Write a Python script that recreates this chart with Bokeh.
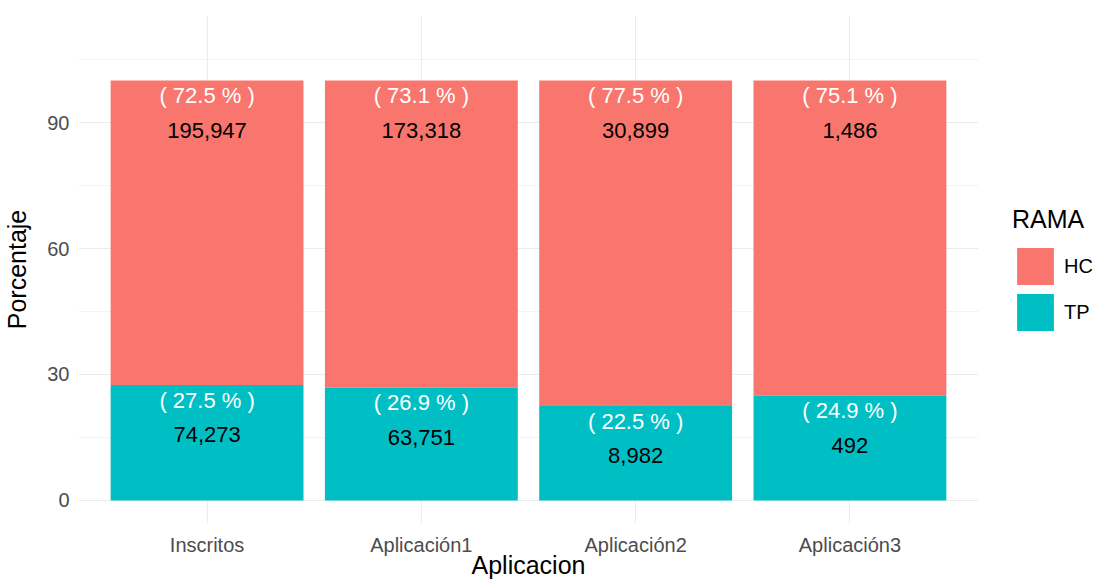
from bokeh.plotting import figure
from bokeh.models import FactorRange, Range1d, FixedTicker, Legend, LegendItem, ColumnDataSource
from bokeh.embed import file_html
from bokeh.resources import INLINE
from bokeh.core.properties import value

categories = ["Inscritos", "Aplicación1", "Aplicación2", "Aplicación3"]
hc_counts = [195947, 173318, 30899, 1486]
tp_counts = [74273, 63751, 8982, 492]
hc_pct = [72.5, 73.1, 77.5, 75.1]
tp_pct = [27.5, 26.9, 22.5, 24.9]
y_ticks = [0, 30, 60, 90]
y_minor = [15, 45, 75, 105]
series_names = ["HC", "TP"]
series_colors = ["#F8766D", "#00BFC4"]

FONT = "Liberation Sans"
PCT_OFF = 3.6    # label offsets below the segment top, in axis units
CNT_OFF = 11.9

p = figure(frame_width=900, frame_height=508, output_backend="svg", toolbar_location=None,
           x_range=FactorRange(factors=categories, range_padding=0.1, range_padding_units="absolute"),
           y_range=Range1d(-5.5, 115.5),
           min_border_left=0, min_border_right=116, min_border_top=15, min_border_bottom=0)
p.outline_line_color = None
p.background_fill_color = "white"
p.border_fill_color = "white"

tp_top = tp_pct
hc_bottom = tp_pct
hc_top = [t + h for t, h in zip(tp_pct, hc_pct)]

src = ColumnDataSource(dict(
    x=categories, tp_top=tp_top, hc_bottom=hc_bottom, hc_top=hc_top,
    hc_lab=[f"( {v:.1f} % )" for v in hc_pct],
    tp_lab=[f"( {v:.1f} % )" for v in tp_pct],
    hc_cnt=[f"{v:,}" for v in hc_counts],
    tp_cnt=[f"{v:,}" for v in tp_counts],
    hc_pct_y=[t - PCT_OFF for t in hc_top],
    hc_cnt_y=[t - CNT_OFF for t in hc_top],
    tp_pct_y=[t - PCT_OFF for t in tp_top],
    tp_cnt_y=[t - CNT_OFF for t in tp_top],
))

r_hc = p.vbar(x="x", bottom="hc_bottom", top="hc_top", width=0.9, source=src,
              fill_color=series_colors[0], line_color=None)
r_tp = p.vbar(x="x", bottom=0, top="tp_top", width=0.9, source=src,
              fill_color=series_colors[1], line_color=None)

common = dict(text_font=value(FONT), text_align="center", text_baseline="middle", source=src)
p.text(x="x", y="hc_pct_y", text="hc_lab", text_color="white", text_font_size="22px", **common)
p.text(x="x", y="hc_cnt_y", text="hc_cnt", text_color="black", text_font_size="22px", **common)
p.text(x="x", y="tp_pct_y", text="tp_lab", text_color="white", text_font_size="22px", **common)
p.text(x="x", y="tp_cnt_y", text="tp_cnt", text_color="black", text_font_size="22px", **common)

# axes
p.yaxis.ticker = FixedTicker(ticks=y_ticks, minor_ticks=y_minor)
for ax in (p.xaxis[0], p.yaxis[0]):
    ax.axis_line_color = None
    ax.major_tick_line_color = None
    ax.minor_tick_line_color = None
    ax.major_tick_out = 0
    ax.major_tick_in = 0
    ax.minor_tick_out = 0
    ax.minor_tick_in = 0
    ax.major_label_text_font = FONT
    ax.major_label_text_font_size = "20px"
    ax.major_label_text_color = "#4D4D4D"
    ax.axis_label_text_font = FONT
    ax.axis_label_text_font_size = "25px"
    ax.axis_label_text_font_style = "normal"
    ax.axis_label_text_color = "black"
p.xaxis.axis_label = "Aplicacion"
p.yaxis.axis_label = "Porcentaje"
p.xaxis.major_label_standoff = 10
p.xaxis.axis_label_standoff = -8
p.yaxis.major_label_standoff = 9
p.yaxis.axis_label_standoff = 13

p.xgrid.grid_line_color = "#EBEBEB"
p.xgrid.grid_line_width = 1.1
p.ygrid.grid_line_color = "#EBEBEB"
p.ygrid.grid_line_width = 1.1
p.ygrid.minor_grid_line_color = "#EBEBEB"
p.ygrid.minor_grid_line_width = 0.6

legend = Legend(items=[LegendItem(label=series_names[0], renderers=[r_hc]),
                       LegendItem(label=series_names[1], renderers=[r_tp])],
                location=(34, 188))
legend.title = "RAMA"
legend.title_text_font = FONT
legend.title_text_font_size = "25px"
legend.title_text_font_style = "normal"
legend.title_text_color = "black"
legend.title_standoff = 9
legend.label_text_font = FONT
legend.label_text_font_size = "20px"
legend.label_text_color = "black"
legend.glyph_width = 46
legend.glyph_height = 46
legend.label_height = 46
legend.label_standoff = 6
legend.spacing = 0
legend.padding = 0
legend.margin = 0
legend.border_line_color = None
legend.background_fill_alpha = 0
p.add_layout(legend, "right")

open("out.html", "w").write(file_html(p, INLINE))
